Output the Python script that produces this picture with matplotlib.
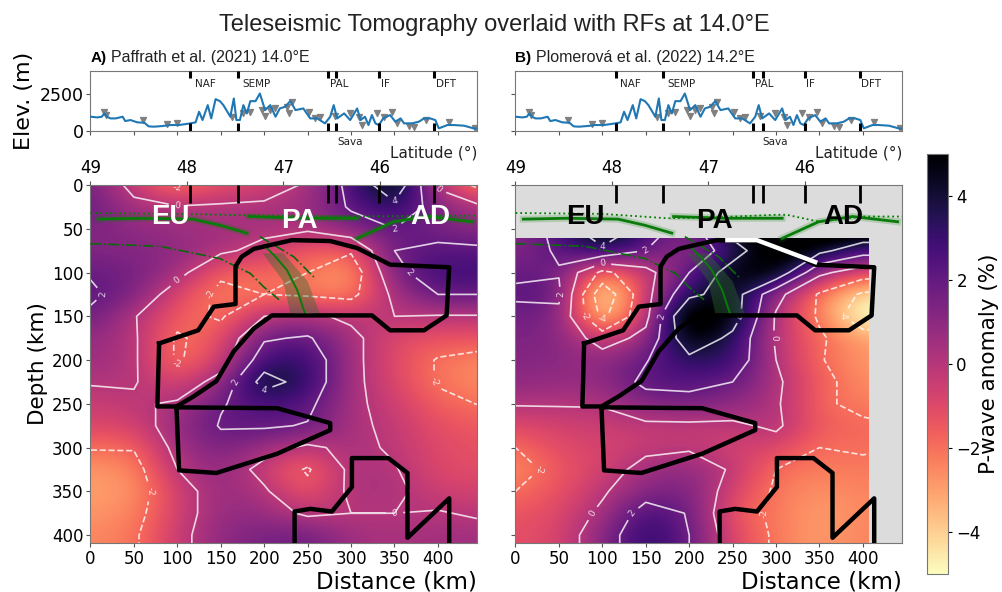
import numpy as np
import matplotlib
matplotlib.use('Agg')
import matplotlib.pyplot as plt
from matplotlib.patches import Rectangle

W, H = 1003, 592

# tomography grids, values in % (x every 50 km, depth every 25 km)
dist_grid = [0, 50, 100, 150, 200, 250, 300, 350, 400, 450]
depth_a = list(range(0, 450, 25))
depth_b = list(range(50, 450, 25))

vp_a = [
    [1.5, -0.5, -2.3, -1.2, -0.8, 0.2, 2.5, 5.5, -0.3, -2.6],
    [2.0, 0.4, 0.1, 0.2, 0.3, 0.6, 2.2, 3.5, 1.2, 0.2],
    [1.3, 1.0, 0.6, 0.5, 0.4, 0.2, 1.2, 2.0, 1.5, 1.0],
    [1.3, 1.2, 1.0, 0.3, -0.5, -1.5, -1.8, 2.0, 2.3, 2.3],
    [1.9, 1.6, 0.6, -1.8, -1.8, -2.0, -3.2, 1.5, 3.0, 2.8],
    [2.2, 1.5, -1.0, -2.3, -2.0, -2.2, -2.5, 0.4, 2.0, 2.0],
    [1.8, 0.1, -1.5, -2.2, 0.0, 0.3, -0.3, 0.0, -0.1, -0.1],
    [0.8, 0.2, -2.2, -1.3, 1.8, 2.2, 0.4, -1.0, -1.3, -1.3],
    [0.6, 0.2, -2.2, -0.8, 3.0, 3.2, 0.4, -1.0, -2.1, -2.5],
    [0.1, 0.1, -1.0, 0.6, 4.8, 3.2, 0.4, -0.9, -2.1, -2.6],
    [-0.5, -0.2, 0.2, 1.9, 2.6, 2.4, 0.3, -0.5, -1.7, -2.05],
    [-0.9, -0.8, 0.8, 2.1, 2.2, 1.9, 0.3, -0.3, -1.2, -1.5],
    [-1.9, -1.9, 0.5, 1.5, 0.6, -0.3, 0.4, -0.2, -1.0, -1.3],
    [-2.8, -2.6, 0.0, 1.0, -0.5, -2.2, 0.4, 0.1, -1.0, -1.1],
    [-3.0, -2.8, -0.7, 0.8, 0.2, -1.5, 0.3, 0.3, -0.6, -0.7],
    [-2.8, -2.5, -0.7, 0.8, 0.8, -0.3, 0.0, 0.0, 0.1, -0.2],
    [-2.5, -2.2, -0.5, 1.0, 1.5, 1.8, 0.5, 0.3, 0.5, 0.5],
    [-2.5, -2.2, -0.5, 1.0, 1.5, 1.8, 0.5, 0.3, 0.5, 0.5],
]

vp_b = [
    [1.0, 2.5, 6.0, 3.0, 1.0, 5.0, 6.0, 6.5, 6.0, 6.0],
    [1.2, 2.2, 3.5, 2.0, 0.6, 3.0, 6.0, 4.5, 2.8, 2.8],
    [1.8, 1.9, -2.5, -0.6, 2.0, 5.0, 5.5, 0.4, -1.0, -1.2],
    [2.2, 2.3, -5.5, -0.6, 3.5, 5.0, 0.6, -2.2, -4.3, -4.6],
    [1.6, 1.6, -4.5, -0.5, 6.5, 5.0, -0.2, -2.2, -5.5, -5.5],
    [1.4, 1.3, -0.8, 0.5, 5.5, 3.5, -0.2, -1.8, -3.0, -3.3],
    [1.2, 1.1, 0.8, 1.9, 3.5, 3.2, 0.0, -1.9, -2.8, -3.0],
    [1.0, 0.8, 0.8, 2.4, 2.4, 2.0, 0.3, -1.6, -2.6, -2.8],
    [0.1, 0.1, 0.1, 1.2, 1.5, 1.0, 0.2, -1.8, -2.3, -2.4],
    [-1.0, -0.7, -0.5, -0.3, -0.3, -0.3, 0.3, -1.6, -1.8, -2.0],
    [-2.0, -1.0, -0.8, -0.4, -0.2, -0.7, -0.8, -2.0, -1.9, -2.0],
    [-2.7, -1.4, -0.8, 0.6, 1.0, -0.2, -2.0, -2.3, -2.2, -2.3],
    [-2.0, -1.3, -0.2, 1.2, 1.5, -0.8, -2.2, -2.7, -2.4, -2.5],
    [-1.4, -1.0, 0.3, 2.8, 1.9, -1.5, -2.2, -3.0, -2.5, -2.5],
    [-1.2, -0.9, 1.0, 3.5, 2.0, -1.0, -2.2, -3.0, -2.4, -2.4],
    [-1.2, -0.9, 1.0, 3.5, 2.0, -1.0, -2.2, -3.0, -2.4, -2.4],
]

# elevation profile
elev_km = [0, 8, 13, 16, 19, 23, 29, 37, 40, 46, 54, 62, 67, 73, 83, 92, 102, 115, 121, 125, 129,
           135, 139, 144, 149, 153, 161, 165, 168, 172, 176, 180, 184, 190, 195, 201, 207, 213,
           218, 224, 230, 236, 245, 253, 261, 270, 276, 280, 284, 292, 299, 307, 311, 316, 320,
           324, 328, 332, 337, 345, 351, 357, 361, 370, 378, 384, 391, 397, 401, 411, 418, 430,
           441, 445]
elev_m = [975, 929, 975, 1201, 975, 861, 861, 975, 680, 748, 590, 567, 317, 295, 340, 408, 408,
          521, 590, 1315, 748, 1768, 861, 2176, 2040, 1768, 975, 2221, 748, 748, 1768, 1201,
          2040, 2040, 2561, 1428, 1768, 975, 1541, 1655, 2040, 1428, 1541, 861, 861, 521, 975,
          1768, 861, 1201, 748, 1541, 748, 975, 408, 1088, 521, 408, 861, 1088, 634, 861, 521,
          521, 634, 861, 861, 748, 181, 408, 408, 363, 181, 150]

station_km = [15, 18, 60, 88, 100, 163, 176, 184, 197, 201, 207, 213, 226, 228, 232, 251, 259,
              264, 282, 299, 309, 313, 330, 338, 347, 353, 367, 372, 386, 413, 443]
station_m = [1317, 1090, 749, 454, 568, 976, 1203, 1317, 1430, 1022, 1430, 1544, 1657, 1203,
             1998, 1317, 863, 976, 1022, 1249, 976, 409, 1203, 976, 1317, 522, 340, 250, 749,
             590, 182]

fault_names = ['NAF', 'SEMP', 'PAL', 'IF', 'DFT']
fault_label_km = [120, 175, 276, 335, 398]
fault_km_a = [115, 170, 274, 283, 332, 396]
fault_km_b = [116, 170, 274, 285, 333, 397]

lat_ticks = [0, 111, 222, 333]
lat_labels = ['49', '48', '47', '46']

# plate labels
plates = ['EU', 'PA', 'AD']
plate_z = [37, 41, 37]
plate_km_a = [92, 240, 391]
plate_km_b = [80, 229, 378]

# black outlines (distance km, depth km)
body1_x = [79, 124, 142, 167, 167, 174, 188, 205, 232, 276, 307, 345, 413, 410, 384, 345, 324,
           249, 209, 188, 165, 145, 118, 99, 77, 79]
body1_z = [181, 166, 139, 136, 93, 82, 73, 69, 63, 64, 72, 91, 94, 149, 166, 166, 149, 149, 149,
           164, 190, 224, 242, 253, 253, 181]
body2_x = [99, 215, 276, 276, 215, 145, 102, 99]
body2_z = [254, 255, 272, 280, 307, 329, 326, 254]
body3_x = [235, 235, 253, 278, 301, 301, 343, 365, 365, 413, 413]
body3_z = [407, 373, 370, 373, 345, 312, 312, 329, 403, 358, 407]
white_x = [244, 278, 345]
white_z = [63, 63, 88]

# green Moho picks
moho_eu_x = [9, 60, 118, 149, 180]
moho_eu_z = [39, 38, 39, 46, 55]
moho_pa_x = [182, 240, 307]
moho_pa_z = [36, 38, 38]
moho_ad_x = [307, 349, 388, 440]
moho_ad_z = [61, 42, 36, 42]
dotted_a_x = [0, 100, 200, 300, 445]
dotted_a_z = [32, 33, 35, 36, 35]
dotted_b_x = [0, 100, 175, 230, 300, 312, 350, 400, 445]
dotted_b_z = [32, 33, 38, 37, 34, 34, 42, 36, 36]
dashdot1_x = [0, 80, 149, 184, 199, 217]
dashdot1_z = [67, 70, 84, 101, 116, 131]
dashdot2_x = [195, 234, 259]
dashdot2_z = [59, 82, 107]
slab_x = [203, 213, 226, 238, 247]
slab_z = [72, 82, 97, 120, 147]
band_x = [198, 222, 250, 264, 230, 222, 198]
band_z = [78, 78, 110, 147, 147, 110, 78]


def box(l, t, r, b):
    return [l / W, 1 - b / H, (r - l) / W, (b - t) / H]


def draw_top(ax, letter, text, fault_km, left_labels):
    ax.scatter(station_km, station_m, marker='v', s=18, color='#808080', zorder=2)
    ax.plot(elev_km, elev_m, color='#1f77b4', lw=1.5, zorder=3)
    for f in fault_km:
        ax.plot([f, f], [3600, 4100], color='k', lw=2.2, solid_capstyle='butt', zorder=4)
        ax.plot([f, f], [0, 550], color='k', lw=2.2, solid_capstyle='butt', zorder=4)
    ax.set_xlim(0, 445)
    ax.set_ylim(0, 4100)
    ax.set_xticks(range(0, 450, 50))
    ax.set_xticklabels([])
    ax.set_yticks([0, 2500])
    if left_labels:
        ax.set_yticklabels(['0', '2500'], fontsize=12.5)
        ax.set_ylabel('Elev. (m)', fontsize=16, labelpad=4)
    else:
        ax.set_yticklabels([])
    ax.tick_params(length=3, width=0.8, color='#555555', pad=2)
    for s in ax.spines.values():
        s.set_color('#777777')
    for name, km in zip(fault_names, fault_label_km):
        ax.text(km, 3200, name, fontsize=7.5, va='center', color='#222222')
    ax.text(284, -750, 'Sava', fontsize=7.5, va='center', color='#222222')
    ax.text(445, -1480, 'Latitude (°)', fontsize=11, ha='right', va='center', color='#222222')
    ax.text(0, 5000, letter, fontsize=11, fontweight='bold', family='Liberation Sans', va='center')
    ax.text(24, 5000, text, fontsize=11.5, family='Liberation Sans', va='center', color='#222222')


def draw_main(ax, vp, depth, fault_km, dotted_x, dotted_z, label_color, plate_km, clip):
    vp = np.array(vp)
    extent = [-25, 475, depth[-1] + 12.5, depth[0] - 12.5]
    im = ax.imshow(vp, cmap='magma_r', vmin=-5, vmax=5, extent=extent, aspect='auto',
                   interpolation='bicubic', zorder=1)
    cs = ax.contour(dist_grid, depth, vp, levels=[-4, -2, 0, 2, 4], colors='white',
                    linewidths=1.2, alpha=0.8, zorder=2)
    labels = ax.clabel(cs, fmt='%d', fontsize=6.5)
    if clip is not None:
        rect = Rectangle((clip[0], clip[1]), clip[2] - clip[0], clip[3] - clip[1],
                         transform=ax.transData)
        im.set_clip_path(rect)
        cs.set_clip_path(rect)
        for t in labels:
            t.set_clip_path(rect)
            t.set_clip_on(True)

    # green picks
    ax.fill(band_x, band_z, color='#2e6b2e', alpha=0.4, lw=0, zorder=3)
    for xs, zs in [(moho_eu_x, moho_eu_z), (moho_pa_x, moho_pa_z), (moho_ad_x, moho_ad_z)]:
        ax.plot(xs, zs, color='green', lw=5, alpha=0.2, zorder=3)
        ax.plot(xs, zs, color='#0a7a0a', lw=2, zorder=4)
    ax.plot(dotted_x, dotted_z, color='green', lw=1.3, ls=':', zorder=4)
    ax.plot(dashdot1_x, dashdot1_z, color='#0a6a0a', lw=1.2, ls='-.', zorder=4)
    ax.plot(dashdot2_x, dashdot2_z, color='#0a6a0a', lw=1.2, ls='-.', zorder=4)
    ax.plot(slab_x, slab_z, color='#0a7a0a', lw=1.4, zorder=4)

    for xs, zs in [(body1_x, body1_z), (body2_x, body2_z), (body3_x, body3_z)]:
        ax.plot(xs, zs, color='k', lw=3.2, solid_joinstyle='round', zorder=5)

    for f in fault_km:
        ax.plot([f, f], [0, 21], color='k', lw=2, solid_capstyle='butt', zorder=6)

    for name, km, z in zip(plates, plate_km, plate_z):
        ax.text(km, z, name, color=label_color, fontsize=20, fontweight='bold',
                family='Liberation Sans', ha='center', va='center', zorder=7)

    ax.set_xlim(0, 445)
    ax.set_ylim(409, 0)
    ax.set_xticks(range(0, 450, 50))
    ax.set_yticks(range(0, 450, 50))
    ax.tick_params(axis='both', labelsize=12, length=3, width=0.8, pad=2, color='#555555')
    ax.set_xlabel('Distance (km)', fontsize=16.5, loc='right', labelpad=2)
    for s in ax.spines.values():
        s.set_color('#777777')
    top = ax.secondary_xaxis('top')
    top.set_xticks(lat_ticks)
    top.set_xticklabels(lat_labels, fontsize=12)
    top.tick_params(length=3, width=0.8, pad=3, color='#555555')
    top.spines['top'].set_visible(False)
    return im


fig = plt.figure(figsize=(W / 100, H / 100), dpi=100)

fig.text(494 / W, 1 - 25 / H, 'Teleseismic Tomography overlaid with RFs at 14.0°E', fontsize=17,
         family='Liberation Sans', ha='center', va='center', color='#222222')

ax_top_a = fig.add_axes(box(90.5, 71, 477, 131))
draw_top(ax_top_a, 'A)', 'Paffrath et al. (2021) 14.0°E', fault_km_a, True)
ax_top_b = fig.add_axes(box(515.5, 71, 902, 131))
draw_top(ax_top_b, 'B)', 'Plomerová et al. (2022) 14.2°E', fault_km_b, False)

ax_a = fig.add_axes(box(90.5, 185, 477, 543))
im = draw_main(ax_a, vp_a, depth_a, fault_km_a, dotted_a_x, dotted_a_z, 'white', plate_km_a, None)
ax_a.set_ylabel('Depth (km)', fontsize=15.5, labelpad=3)

ax_b = fig.add_axes(box(515.5, 185, 902, 543))
ax_b.set_facecolor('#dcdcdc')
draw_main(ax_b, vp_b, depth_b, fault_km_b, dotted_b_x, dotted_b_z, 'black', plate_km_b,
          (0, 60, 407, 409))
ax_b.set_yticklabels([])
ax_b.plot(white_x, white_z, color='white', lw=3.2, zorder=6)

cax = fig.add_axes(box(927, 154, 948, 574))
cb = fig.colorbar(im, cax=cax)
cb.set_ticks([-4, -2, 0, 2, 4])
cb.ax.tick_params(labelsize=12, length=3, width=0.8, pad=3)
cb.set_label('P-wave anomaly (%)', fontsize=15.5, labelpad=-1)
cb.outline.set_edgecolor('#777777')

plt.savefig('out.png', dpi=100)
